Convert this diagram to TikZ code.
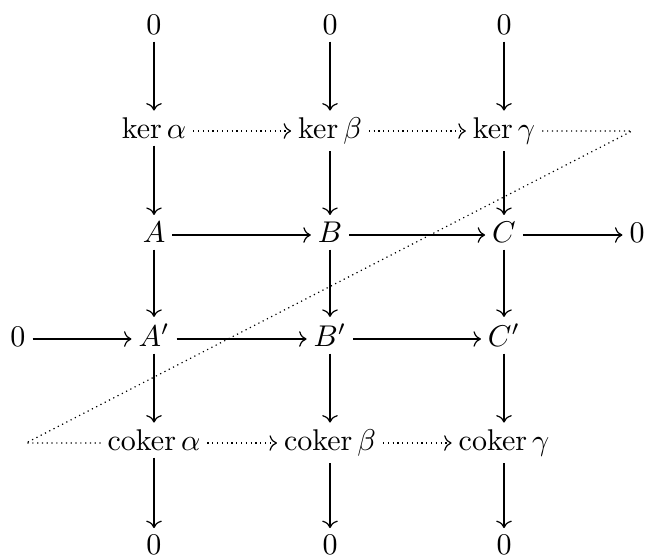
\documentclass[tikz,border=0pt]{standalone}
\usepackage{amsmath}
\usetikzlibrary{arrows.meta,cd}
\begin{document}
\begin{tikzpicture}[x=0.3333pt,y=-0.3333pt,
  obj/.style={shape=asymmetrical rectangle, inner sep=0.5ex},
  arr/.style={-{Computer Modern Rightarrow}, line width=0.4pt},
  dotarr/.style={arr, dash pattern=on 0.4pt off 1.2pt},
  snake/.style={line width=0.4pt, dash pattern=on 0.4pt off 1.2pt}]
\useasboundingbox (0,0) rectangle (647,554);
\def\ca{154}\def\cb{330}\def\cc{504}
% row 0
\node[obj] (z1) at (\ca,27) {$0$};
\node[obj] (z2) at (\cb,27) {$0$};
\node[obj] (z3) at (\cc,27) {$0$};
% row ker
\node[obj] (ka) at (\ca,131) {$\ker\alpha$};
\node[obj] (kb) at (\cb,131) {$\ker\beta$};
\node[obj] (kc) at (\cc,131) {$\ker\gamma$};
% row A
\node[obj] (A) at (\ca,235) {$A$};
\node[obj] (B) at (\cb,235) {$B$};
\node[obj] (C) at (\cc,235) {$C$};
\node[obj] (zr) at (637,235) {$0$};
% row A'
\node[obj] (zl) at (18,339) {$0$};
\node[obj] (Ap) at (\ca,339) {$A'$};
\node[obj] (Bp) at (\cb,339) {$B'$};
\node[obj] (Cp) at (\cc,339) {$C'$};
% row coker
\node[obj] (ca) at (\ca,443) {$\operatorname{coker}\alpha$};
\node[obj] (cb) at (\cb,443) {$\operatorname{coker}\beta$};
\node[obj] (cc) at (\cc,443) {$\operatorname{coker}\gamma$};
% bottom row
\node[obj] (b1) at (\ca,547) {$0$};
\node[obj] (b2) at (\cb,547) {$0$};
\node[obj] (b3) at (\cc,547) {$0$};
% snake corners
\coordinate (s1) at (632,131);
\coordinate (s2) at (26,443);
% vertical arrows
\foreach \u/\v in {z1/ka,ka/A,A/Ap,Ap/ca,ca/b1,
                   z2/kb,kb/B,B/Bp,Bp/cb,cb/b2,
                   z3/kc,kc/C,C/Cp,Cp/cc,cc/b3}
  \draw[arr] (\u) -- (\v);
% horizontal arrows
\draw[arr] (A) -- (B);
\draw[arr] (B) -- (C);
\draw[arr] (C) -- (zr);
\draw[arr] (zl) -- (Ap);
\draw[arr] (Ap) -- (Bp);
\draw[arr] (Bp) -- (Cp);
\draw[dotarr] (ka) -- (kb);
\draw[dotarr] (kb) -- (kc);
\draw[dotarr] (ca) -- (cb);
\draw[dotarr] (cb) -- (cc);
% snake
\draw[snake] (kc.east) -- (s1) -- (s2) -- (ca.west);
\end{tikzpicture}
\end{document}
